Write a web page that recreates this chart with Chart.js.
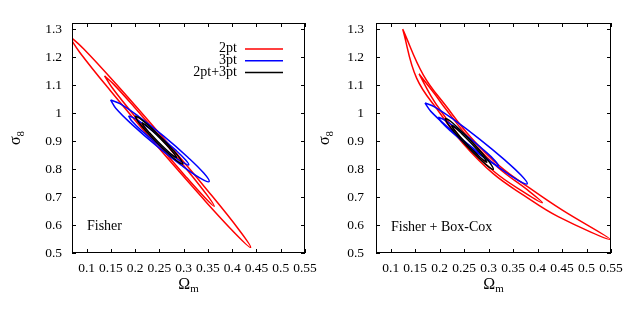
<!DOCTYPE html>
<html>
<head>
<meta charset="utf-8">
<script src="https://cdn.jsdelivr.net/npm/chart.js@4"></script>
<style>
html, body { margin: 0; padding: 0; background: #fff; }
#wrap { position: relative; width: 630px; height: 309px; overflow: hidden; }
.panel { position: absolute; top: 0; height: 309px; }
</style>
</head>
<body>
<div id="wrap">
  <div class="panel" style="left:0;width:325px"><canvas id="fisherChart" width="325" height="309"></canvas></div>
  <div class="panel" style="left:315px;width:315px"><canvas id="boxcoxChart" width="315" height="309"></canvas></div>
</div>
<script>
// axis ticks
const xTicks = [0.1, 0.15, 0.2, 0.25, 0.3, 0.35, 0.4, 0.45, 0.5, 0.55];
const yTicks = [0.5, 0.6, 0.7, 0.8, 0.9, 1, 1.1, 1.2, 1.3];
const legendNames = ["2pt", "3pt", "2pt+3pt"];
const legendColors = ["#ff0000", "#0000ff", "#000000"];

// Fisher panel contours, [Omega_m, sigma_8]
const fisher2ptOuter = [[0.062,1.280],[0.0943,1.2292],[0.1628,1.1001],[0.2578,0.9117],[0.3508,0.7201],[0.4139,0.5832],[0.438,0.520],
  [0.4057,0.5708],[0.3372,0.6999],[0.2422,0.8883],[0.1492,1.0799],[0.0861,1.2168],[0.062,1.280]];
const fisher2ptInner = [[0.137,1.133],[0.1565,1.1018],[0.1977,1.0227],[0.2549,0.9072],[0.3107,0.7897],[0.3487,0.7058],[0.363,0.667],
  [0.3435,0.6982],[0.3023,0.7773],[0.2451,0.8928],[0.1893,1.0103],[0.1513,1.0942],[0.137,1.133]];
const fisher3ptOuter = [[0.1495,1.047],[0.1688,1.0338],[0.2070,0.9883],[0.2589,0.9175],[0.3086,0.8423],[0.3414,0.7856],[0.3525,0.755],
  [0.3332,0.7682],[0.2950,0.8137],[0.2431,0.8845],[0.1934,0.9597],[0.1606,1.0164],[0.1495,1.047]];
const fisher3ptInner = [[0.1865,0.99],[0.1983,0.9823],[0.2217,0.9552],[0.2533,0.9128],[0.2837,0.8676],[0.3037,0.8335],[0.3105,0.815],
  [0.2987,0.8227],[0.2753,0.8498],[0.2437,0.8922],[0.2133,0.9374],[0.1933,0.9715],[0.1865,0.99]];
const fisherJointOuter = [[0.200,0.990],[0.2098,0.9815],[0.2287,0.9542],[0.2538,0.9123],[0.2777,0.8682],[0.2932,0.8353],[0.298,0.818],
  [0.2882,0.8265],[0.2693,0.8538],[0.2442,0.8957],[0.2203,0.9398],[0.2048,0.9727],[0.200,0.990]];
const fisherJointInner = [[0.214,0.9655],[0.2208,0.9587],[0.2341,0.9387],[0.2523,0.9083],[0.2697,0.8767],[0.2812,0.8533],[0.285,0.8415],
  [0.2782,0.8483],[0.2649,0.8683],[0.2467,0.8987],[0.2293,0.9303],[0.2178,0.9537],[0.214,0.9655]];

// Fisher + Box-Cox panel contours
const boxcox2ptOuter = [[0.1245,1.300],[0.1668,1.1360],[0.2150,1.0207],[0.2626,0.9157],[0.3226,0.8105],[0.3833,0.7328],[0.4499,0.6541],[0.548,0.549],
  [0.4421,0.6299],[0.3727,0.7052],[0.3094,0.7835],[0.2474,0.8923],[0.2000,1.0013],[0.1532,1.1240],[0.1245,1.300]];
const boxcox2ptInner = [[0.158,1.14],[0.1896,1.069],[0.2117,1.0164],[0.2596,0.9111],[0.3197,0.8045],[0.3801,0.7245],[0.41,0.68],
  [0.3759,0.7135],[0.3123,0.7895],[0.2504,0.8969],[0.2033,1.0056],[0.1824,1.061],[0.158,1.14]];
const boxcox3ptOuter = [[0.170,1.036],[0.1894,1.0224],[0.2282,0.9772],[0.2815,0.9069],[0.3328,0.8326],[0.3670,0.7768],[0.379,0.747],
  [0.3596,0.7606],[0.3208,0.8058],[0.2675,0.8761],[0.2162,0.9504],[0.1820,1.0062],[0.170,1.036]];
const boxcox3ptInner = [[0.197,0.985],[0.2085,0.977],[0.2315,0.9500],[0.2629,0.9080],[0.2931,0.8634],[0.3131,0.8300],[0.320,0.812],
  [0.3085,0.8200],[0.2855,0.8470],[0.2541,0.8890],[0.2239,0.9336],[0.2039,0.9670],[0.197,0.985]];
const boxcoxJointOuter = [[0.211,0.982],[0.2210,0.9726],[0.2398,0.9433],[0.2652,0.8986],[0.2892,0.8517],[0.3048,0.8170],[0.3096,0.799],
  [0.2996,0.8084],[0.2808,0.8377],[0.2554,0.8824],[0.2314,0.9293],[0.2158,0.9640],[0.211,0.982]];
const boxcoxJointInner = [[0.2243,0.9565],[0.2312,0.9491],[0.2447,0.9276],[0.2631,0.8952],[0.2807,0.8616],[0.2924,0.8369],[0.2963,0.8245],
  [0.2894,0.8319],[0.2759,0.8534],[0.2575,0.8858],[0.2399,0.9194],[0.2282,0.9441],[0.2243,0.9565]];

const SERIF = "'Liberation Serif', 'DejaVu Serif', serif";

function contour(points, colorIndex) {
  return {
    label: legendNames[colorIndex],
    data: points.map(p => ({ x: p[0], y: p[1] })),
    showLine: true,
    borderColor: legendColors[colorIndex],
    borderWidth: 1.5,
    pointRadius: 0,
    tension: 0.4,
    fill: false,
    order: 3 - colorIndex
  };
}

// gnuplot-like box with inward ticks, axis titles, panel label, legend
const framePlugin = {
  id: "frame",
  afterDatasetsDraw(chart, args, opts) {
    const { ctx, chartArea: a, scales: { x, y } } = chart;
    ctx.save();
    ctx.strokeStyle = "#000";
    ctx.lineWidth = 1;
    ctx.strokeRect(a.left + 0.5, a.top + 0.5, a.right - a.left - 1, a.bottom - a.top - 1);
    ctx.beginPath();
    x.ticks.forEach(t => {
      const px = Math.round(x.getPixelForValue(t.value)) + 0.5;
      ctx.moveTo(px, a.bottom); ctx.lineTo(px, a.bottom - 4);
      ctx.moveTo(px, a.top); ctx.lineTo(px, a.top + 4);
    });
    y.ticks.forEach(t => {
      const py = Math.round(y.getPixelForValue(t.value)) + 0.5;
      ctx.moveTo(a.left, py); ctx.lineTo(a.left + 4, py);
      ctx.moveTo(a.right, py); ctx.lineTo(a.right - 4, py);
    });
    ctx.stroke();

    ctx.fillStyle = "#000";
    ctx.textBaseline = "alphabetic";
    // x title: Omega_m
    ctx.font = "16px " + SERIF;
    const wO = ctx.measureText("Ω").width;
    ctx.font = "11px " + SERIF;
    const wm = ctx.measureText("m").width;
    const cx = (a.left + a.right) / 2;
    ctx.textAlign = "left";
    ctx.font = "16px " + SERIF;
    ctx.fillText("Ω", cx - (wO + wm) / 2, 289);
    ctx.font = "11px " + SERIF;
    ctx.fillText("m", cx - (wO + wm) / 2 + wO, 292);

    // y title: sigma_8
    ctx.save();
    ctx.translate(opts.yTitleX, (a.top + a.bottom) / 2);
    ctx.rotate(-Math.PI / 2);
    ctx.font = "16px " + SERIF;
    const ws = ctx.measureText("σ").width;
    ctx.font = "11px " + SERIF;
    const w8 = ctx.measureText("8").width;
    ctx.font = "16px " + SERIF;
    ctx.fillText("σ", -(ws + w8) / 2, 0);
    ctx.font = "11px " + SERIF;
    ctx.fillText("8", -(ws + w8) / 2 + ws, 4);
    ctx.restore();

    // panel label
    ctx.font = "14px " + SERIF;
    ctx.fillText(opts.label, opts.labelX, opts.labelY);

    if (opts.legend) {
      ctx.textAlign = "right";
      ctx.textBaseline = "middle";
      legendNames.forEach((name, i) => {
        const ly = 48.5 + i * 11.7;
        ctx.fillStyle = "#000";
        ctx.fillText(name, 237, ly);
        ctx.strokeStyle = legendColors[i];
        ctx.lineWidth = 1.5;
        ctx.beginPath();
        ctx.moveTo(245, ly + 0.5);
        ctx.lineTo(283, ly + 0.5);
        ctx.stroke();
      });
    }
    ctx.restore();
  }
};

function makeChart(id, sets, cfg) {
  return new Chart(document.getElementById(id), {
    type: "scatter",
    data: { datasets: sets },
    options: {
      responsive: false,
      animation: false,
      layout: { padding: { top: 23, right: cfg.padRight, bottom: 0, left: 0 } },
      plugins: {
        legend: { display: false },
        tooltip: { enabled: false },
        frame: cfg.frame
      },
      scales: {
        x: {
          type: "linear",
          min: 0.07,
          max: 0.55,
          grid: { display: false, drawTicks: false },
          border: { display: false },
          afterBuildTicks: s => { s.ticks = xTicks.map(v => ({ value: v })); },
          afterFit: s => { s.height = 56; s.paddingLeft = 0; s.paddingRight = 0; },
          ticks: {
            color: "#000",
            padding: 7,
            maxRotation: 0,
            autoSkip: false,
            font: { family: SERIF, size: 13.5 },
            callback: v => String(+v.toFixed(2))
          }
        },
        y: {
          type: "linear",
          min: 0.5,
          max: 1.322,
          grid: { display: false, drawTicks: false },
          border: { display: false },
          afterBuildTicks: s => { s.ticks = yTicks.map(v => ({ value: v })); },
          afterFit: s => { s.width = cfg.yWidth; s.paddingTop = 0; s.paddingBottom = 0; },
          ticks: {
            color: "#000",
            padding: cfg.yPad,
            autoSkip: false,
            font: { family: SERIF, size: 13.5 },
            callback: v => String(+v.toFixed(2))
          }
        }
      }
    },
    plugins: [framePlugin]
  });
}

makeChart("fisherChart", [
  contour(fisher2ptOuter, 0), contour(fisher2ptInner, 0),
  contour(fisher3ptOuter, 1), contour(fisher3ptInner, 1),
  contour(fisherJointOuter, 2), contour(fisherJointInner, 2)
], {
  padRight: 20, yWidth: 72, yPad: 10,
  frame: { label: "Fisher", labelX: 87, labelY: 230, yTitleX: 20, legend: true }
});

makeChart("boxcoxChart", [
  contour(boxcox2ptOuter, 0), contour(boxcox2ptInner, 0),
  contour(boxcox3ptOuter, 1), contour(boxcox3ptInner, 1),
  contour(boxcoxJointOuter, 2), contour(boxcoxJointInner, 2)
], {
  padRight: 19, yWidth: 61, yPad: 12,
  frame: { label: "Fisher + Box-Cox", labelX: 76, labelY: 231, yTitleX: 14, legend: false }
});
</script>
</body>
</html>
